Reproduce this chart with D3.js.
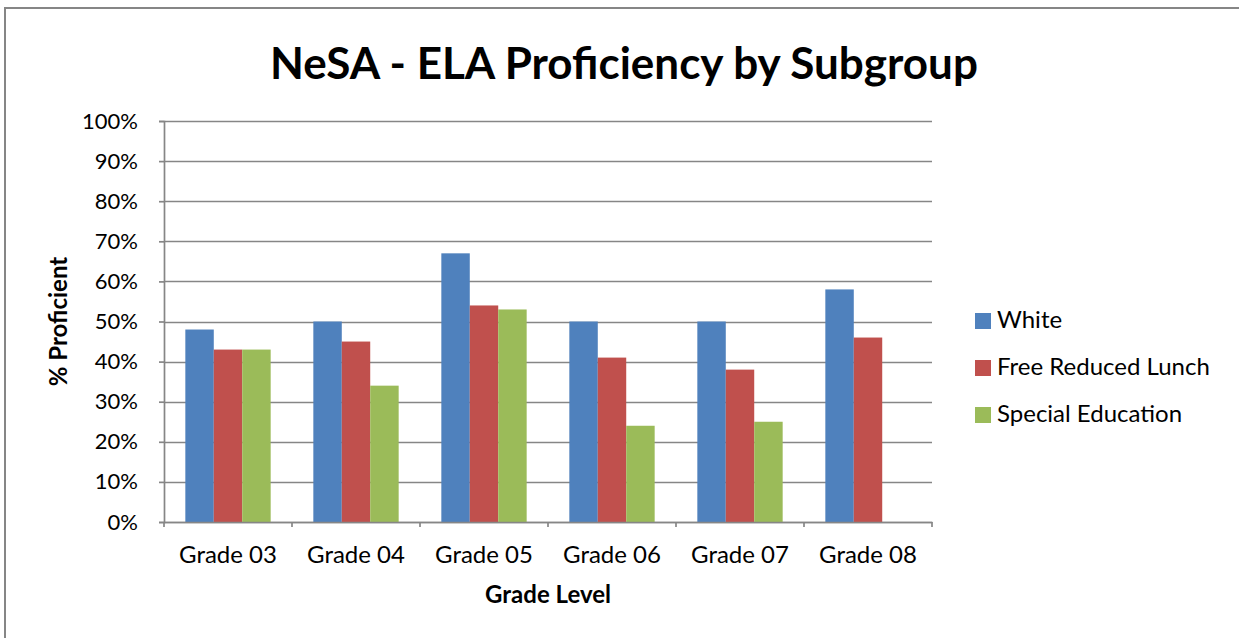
<!DOCTYPE html>
<html>
<head>
<meta charset="utf-8">
<script src="https://cdn.jsdelivr.net/npm/d3@7"></script>
<style>
  body { margin: 0; background: #fff; }
  svg text { font-family: Lato, "Open Sans", sans-serif; fill: #000; }
</style>
</head>
<body>
<div id="chart"></div>
<script>
var grades = ["Grade 03", "Grade 04", "Grade 05", "Grade 06", "Grade 07", "Grade 08"];
var seriesNames = ["White", "Free Reduced Lunch", "Special Education"];
var white = [48, 50, 67, 50, 50, 58];
var freeReducedLunch = [43, 45, 54, 41, 38, 46];
var specialEducation = [43, 34, 53, 24, 25, null];
var yTicks = [0, 10, 20, 30, 40, 50, 60, 70, 80, 90, 100];
var colors = ["#4f81bd", "#c0504d", "#9bbb59"];

var seriesValues = [white, freeReducedLunch, specialEducation];

var width = 1239, height = 638;
var plot = {left: 164, right: 932, top: 121, bottom: 522};

var svg = d3.select("#chart")
	.append("svg")
		.attr("width", width)
		.attr("height", height);

// outer chart border (runs off right/bottom edge)
svg.append("rect")
	.attr("x", 5)
	.attr("y", 8)
	.attr("width", 1260)
	.attr("height", 660)
	.attr("fill", "none")
	.attr("stroke", "#868686")
	.attr("stroke-width", 2);

var x = d3.scaleBand()
	.domain(grades)
	.range([plot.left, plot.right])
	.paddingInner(0)
	.paddingOuter(0);

// excel gap width 150%
var x1 = d3.scaleBand()
	.domain(seriesNames)
	.range([0, x.bandwidth()])
	.paddingOuter(0.75)
	.paddingInner(0);

var y = d3.scaleLinear()
	.domain([0, 100])
	.range([plot.bottom, plot.top]);

// gridlines
svg.append("g")
	.selectAll("line")
	.data(yTicks)
	.enter()
		.append("line")
		.attr("x1", plot.left)
		.attr("x2", plot.right)
		.attr("y1", d => Math.round(y(d)) + 0.5)
		.attr("y2", d => Math.round(y(d)) + 0.5)
		.attr("stroke", "#868686")
		.attr("stroke-width", 1.7);

// y axis
var yAxis = svg.append("g")
	.attr("transform", "translate(" + plot.left + ",0)")
	.call(d3.axisLeft(y).tickValues(yTicks).tickFormat(d => d + "%").tickSize(5).tickPadding(21));
yAxis.select(".domain").attr("stroke", "#868686").attr("stroke-width", 1.7);
yAxis.selectAll(".tick line").attr("stroke", "#868686").attr("stroke-width", 1.7);
yAxis.selectAll("text").style("font-size", "22px").attr("fill", "#000");

// bars
grades.forEach((g, gi) => {
	svg.append("g")
		.attr("transform", "translate(" + x(g) + ",0)")
		.selectAll("rect")
		.data(seriesNames.map((s, si) => ({series: s, value: seriesValues[si][gi], color: colors[si]})).filter(d => d.value != null))
		.enter()
			.append("rect")
			.attr("x", d => x1(d.series))
			.attr("width", x1.bandwidth())
			.attr("y", d => y(d.value))
			.attr("height", d => y(0) - y(d.value))
			.attr("fill", d => d.color);
});

// x axis
var xAxis = svg.append("g")
	.attr("transform", "translate(0," + plot.bottom + ")")
	.call(d3.axisBottom(x).tickSize(0).tickPadding(24));
xAxis.select(".domain").attr("stroke", "#868686").attr("stroke-width", 1.7);
xAxis.selectAll("text").style("font-size", "24px").attr("fill", "#000");
xAxis.selectAll(".tick").append("line")
	.attr("x1", -x.bandwidth() / 2).attr("x2", -x.bandwidth() / 2)
	.attr("y1", 0).attr("y2", 5)
	.attr("stroke", "#868686").attr("stroke-width", 1.7);
svg.append("line")
	.attr("x1", plot.right).attr("x2", plot.right)
	.attr("y1", plot.bottom).attr("y2", plot.bottom + 5)
	.attr("stroke", "#868686").attr("stroke-width", 1.7);

// titles
svg.append("text")
	.attr("x", 624)
	.attr("y", 79)
	.attr("text-anchor", "middle")
	.style("font-size", "44px")
	.style("font-weight", "bold")
	.text("NeSA - ELA Proficiency by Subgroup");

svg.append("text")
	.attr("x", 548)
	.attr("y", 603)
	.attr("text-anchor", "middle")
	.style("font-size", "24px")
	.style("font-weight", "bold")
	.text("Grade Level");

svg.append("text")
	.attr("transform", "translate(67," + ((plot.top + plot.bottom) / 2) + ") rotate(-90)")
	.attr("text-anchor", "middle")
	.style("font-size", "24px")
	.style("font-weight", "bold")
	.text("% Proficient");

// legend
var legend = svg.append("g")
	.selectAll("g")
	.data(seriesNames)
	.enter()
		.append("g")
		.attr("transform", (d, i) => "translate(975," + (313 + i * 47) + ")");
legend.append("rect")
	.attr("width", 16)
	.attr("height", 16)
	.attr("fill", (d, i) => colors[i]);
legend.append("text")
	.attr("x", 22)
	.attr("y", 15)
	.style("font-size", "24px")
	.text(d => d);
</script>
</body>
</html>
